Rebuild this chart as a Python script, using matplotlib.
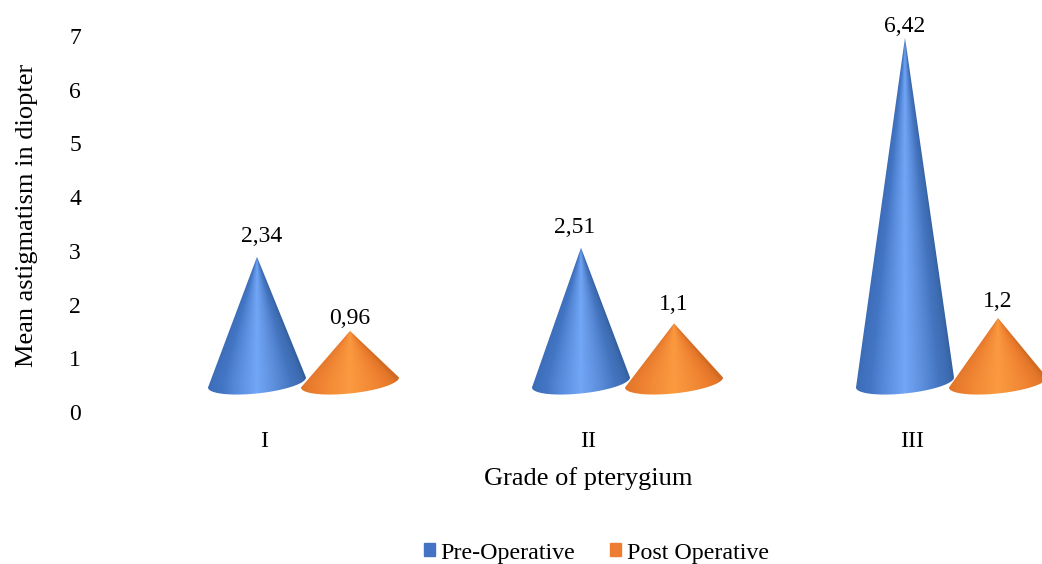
# Cone chart: mean astigmatism per pterygium grade
import numpy as np
import matplotlib
matplotlib.use('Agg')
import matplotlib.pyplot as plt
from matplotlib.colors import LinearSegmentedColormap
from matplotlib.patches import Patch, Polygon

plt.rcParams['font.family'] = ['Liberation Serif', 'DejaVu Serif']

# Data
grades = ['I', 'II', 'III']
pre_operative = [2.34, 2.51, 6.42]
post_operative = [0.96, 1.1, 1.2]
pre_labels = ['2,34', '2,51', '6,42']
post_labels = ['0,96', '1,1', '1,2']
y_ticks = [0, 1, 2, 3, 4, 5, 6, 7]

# Figure geometry in pixels
W, H = 1042, 564
AX_LEFT, AX_BOTTOM = 88, 412
PX_X = 324.0    # one category
PX_Y = 53.7     # one diopter
X0 = 264        # pixel of the first category

# The fake 3D floor lifts every cone off the zero line
FLOOR = 0.55
half_w = 49 / PX_X
half_h = 11 / PX_Y
tilt = 5 / PX_Y

# Nudges for the value labels, in pixels
pre_nudge = [(5, 10), (-6, 10), (0, 1)]
post_nudge = [(0, 2), (0, 8), (0, 6)]

blue_map = LinearSegmentedColormap.from_list('b', ['#3a69b3', '#4275c4', '#72a6f6', '#4474bf', '#33609f'])
orange_map = LinearSegmentedColormap.from_list('o', ['#d96f24', '#ec7f30', '#fb9a40', '#ec7d2e', '#d26a22'])


def draw_cone(ax, cx, value, cmap):
    # Horizontal shading that follows the slant, clipped to the cone outline
    top = value + FLOOR
    t = np.linspace(0, np.pi, 121)
    px = cx + half_w * np.cos(t)
    py = FLOOR - half_h * np.sin(t) + tilt * np.cos(t)
    outline = [(cx, top)] + list(zip(px, py))

    low = FLOOR - half_h - tilt - 0.05
    xs = np.linspace(cx - half_w, cx + half_w, 200)
    ys = np.linspace(low, top, 400)
    gx, gy = np.meshgrid(xs, ys)
    scale = np.clip((top - gy) / (top - FLOOR), 0.02, 1)
    shade = np.clip((gx - cx) / (half_w * scale), -1, 1)
    # angle around the cone gives the soft look of the highlight
    shade = (np.arcsin(shade) / np.pi) + 0.5

    im = ax.imshow(shade, extent=(cx - half_w, cx + half_w, low, top), origin='lower', aspect='auto',
                   cmap=cmap, vmin=0, vmax=1, interpolation='bilinear', zorder=2)
    clip = Polygon(outline, closed=True, transform=ax.transData, facecolor='none', edgecolor='none')
    ax.add_patch(clip)
    im.set_clip_path(clip)


fig = plt.figure(figsize=(W / 100, H / 100), dpi=100)
ax = fig.add_axes([AX_LEFT / W, (H - AX_BOTTOM) / H, (W - AX_LEFT) / W, AX_BOTTOM / H])

pre_x = np.arange(len(grades)) - 7 / PX_X
post_x = np.arange(len(grades)) + 86 / PX_X

for i in range(len(grades)):
    draw_cone(ax, pre_x[i], pre_operative[i], blue_map)
    draw_cone(ax, post_x[i], post_operative[i], orange_map)
    ax.annotate(pre_labels[i], (pre_x[i], pre_operative[i] + FLOOR), xytext=pre_nudge[i],
                textcoords='offset pixels', ha='center', va='bottom', fontsize=17, color='black', annotation_clip=False)
    ax.annotate(post_labels[i], (post_x[i], post_operative[i] + FLOOR), xytext=post_nudge[i],
                textcoords='offset pixels', ha='center', va='bottom', fontsize=17, color='black', annotation_clip=False)

ax.set_xlim((AX_LEFT - X0) / PX_X, (W - X0) / PX_X)
ax.set_ylim(0, AX_BOTTOM / PX_Y)

for side in ['top', 'right', 'bottom', 'left']:
    ax.spines[side].set_visible(False)
ax.patch.set_visible(False)

ax.set_yticks(y_ticks)
ax.set_xticks(np.arange(len(grades)))
ax.set_xticklabels(grades)
ax.tick_params(axis='y', length=0, pad=5, labelsize=17)
ax.tick_params(axis='x', length=0, pad=14, labelsize=17)

fig.text(588 / W, 1 - 479 / H, 'Grade of pterygium', ha='center', va='center', fontsize=19)
fig.text(27 / W, 1 - 215 / H, 'Mean astigmatism in diopter', ha='center', va='center', rotation=90, fontsize=19)

handles = [Patch(color='#4472c4', label='Pre-Operative'), Patch(color='#ed7d31', label='Post Operative')]
fig.legend(handles=handles, loc='center', bbox_to_anchor=(596.5 / W, 1 - 553 / H), ncol=2, frameon=False,
           fontsize=17.3, handlelength=0.45, handleheight=0.45, handletextpad=0.25, columnspacing=1.45, borderpad=0)

fig.savefig('out.png', dpi=100)
